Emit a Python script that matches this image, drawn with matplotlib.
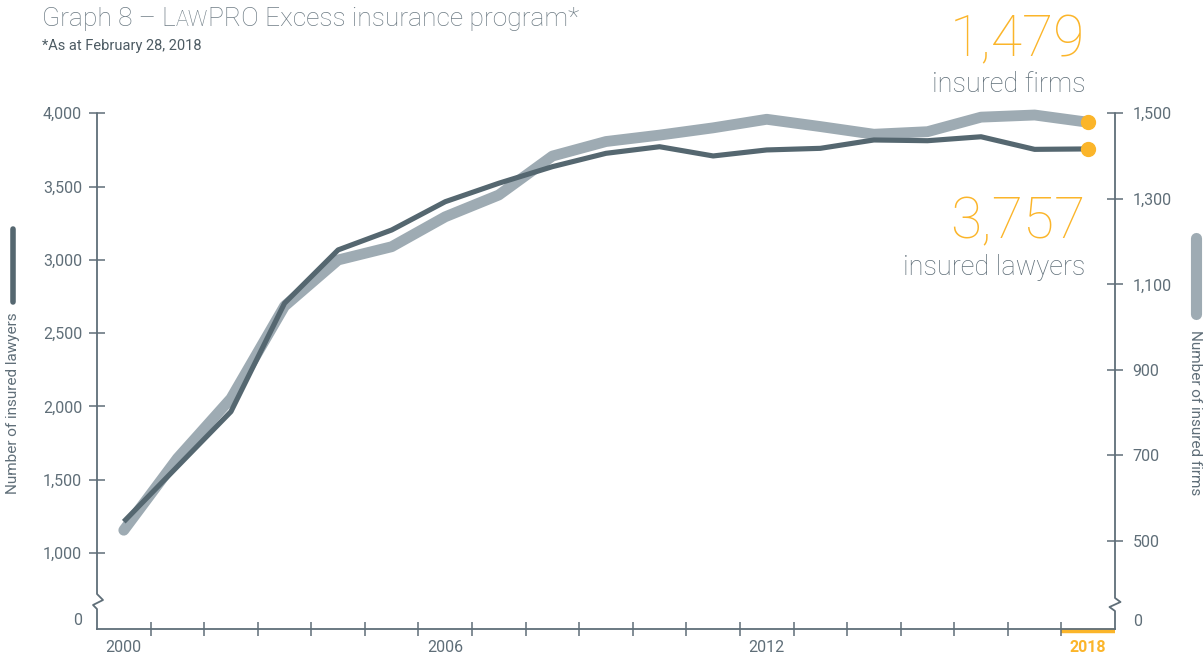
import numpy as np
import matplotlib.pyplot as plt
from matplotlib.lines import Line2D

plt.rcParams['font.family'] = ['Roboto', 'DejaVu Sans']

# data
years = list(range(2000, 2019))
lawyers = [1214, 1590, 1965, 2704, 3068, 3204, 3397, 3523, 3636, 3727,
           3772, 3709, 3750, 3761, 3818, 3813, 3840, 3754, 3757]
firms = [525, 693, 833, 1049, 1157, 1188, 1258, 1309, 1400, 1434,
         1449, 1466, 1486, 1469, 1451, 1457, 1491, 1496, 1479]
lawyerTicks = [1000, 1500, 2000, 2500, 3000, 3500, 4000]
firmTicks = [500, 700, 900, 1100, 1300, 1500]
yearLabels = [2000, 2006, 2012, 2018]

dark = '#556770'
light = '#9eabb3'
grey = '#5f6e78'
orange = '#fbb52a'

W, H = 1204, 654
fig = plt.figure(figsize=(W/100, H/100), dpi=100)
axW, axH = 1018, 515.7
ax = fig.add_axes([97/W, 1-629/H, axW/W, axH/H])
ax2 = ax.twinx()
ax.set_zorder(ax2.get_zorder()+1)
ax.patch.set_visible(False)

ax.set_xlim(1999.5, 2018.5)
ax.set_ylim(482, 4000)
ax2.set_ylim(294, 1500)

# lines
ax2.plot(years, firms, color=light, lw=7.8, solid_capstyle='round', clip_on=False)
ax.plot(years, lawyers, color=dark, lw=3.7, solid_capstyle='butt', clip_on=False)
ax2.plot(years[-1], firms[-1], 'o', color=orange, ms=10, clip_on=False, zorder=5)
ax.plot(years[-1], lawyers[-1], 'o', color=orange, ms=10, clip_on=False, zorder=5)

# spines: bottom normal, sides drawn with break marks
for a in (ax, ax2):
    for s in a.spines.values():
        s.set_visible(False)
ax.spines['bottom'].set_visible(True)
ax.spines['bottom'].set_color(grey)
ax.spines['bottom'].set_linewidth(1.3)

def brokenSpine(x0, pts):
    xs = [x0 + dx/axW for dx, dy in pts]
    ys = [dy/axH for dx, dy in pts]
    ax.add_line(Line2D(xs, ys, transform=ax.transAxes, color=grey, lw=1.3, clip_on=False))

brokenSpine(0, [(0, axH), (0, 35), (6, 29), (-4, 24), (0, 20), (0, 0)])
brokenSpine(1, [(0, axH), (0, 31), (5.5, 27), (-5.5, 22), (0, 18), (0, 0)])

# y ticks
ax.set_yticks(lawyerTicks)
ax.set_yticklabels(['{:,}'.format(v) for v in lawyerTicks])
ax.tick_params(axis='y', direction='inout', length=11.5, width=1.1, color=grey,
               labelcolor=grey, labelsize=11.5, pad=5)
ax2.set_yticks(firmTicks)
ax2.set_yticklabels(['{:,}'.format(v) for v in firmTicks])
ax2.tick_params(axis='y', direction='inout', length=11.5, width=1.1, color=grey,
                labelcolor=grey, labelsize=11.5, pad=7)
ax.annotate('0', xy=(0, 537), xycoords=ax.get_yaxis_transform(), xytext=(-15, 0),
            textcoords='offset pixels', ha='right', va='center', fontsize=11.5, color=grey)
ax2.annotate('0', xy=(1, 312), xycoords=ax2.get_yaxis_transform(), xytext=(18, 0),
             textcoords='offset pixels', ha='left', va='center', fontsize=11.5, color=grey)

# x ticks: marks between years, labels on selected years
ax.set_xticks(np.arange(2000.5, 2018, 1))
ax.set_xticklabels([])
ax.tick_params(axis='x', which='major', direction='inout', length=10, width=1.1, color=grey)
ax.set_xticks(yearLabels, minor=True)
ax.set_xticklabels([str(y) for y in yearLabels], minor=True)
ax.tick_params(axis='x', which='minor', length=0, pad=8, labelsize=11.5, labelcolor=grey)
lastLab = ax.get_xticklabels(minor=True)[-1]
lastLab.set_color(orange)
lastLab.set_fontweight('bold')
ax.plot([2017.5, 2018.5], [-2/axH, -2/axH], transform=ax.get_xaxis_transform(),
        color=orange, lw=3.2, solid_capstyle='butt', clip_on=False, zorder=1)

# title with small caps in LAWPRO
renderer = fig.canvas.get_renderer()
x = 42
titleColor = '#6e7c85'
for txt, size in [('Graph 8 \u2013 L', 19), ('AW', 15.5), ('PRO Excess insurance program*', 19)]:
    t = fig.text(x/W, 1-26/H, txt, fontsize=size, color=titleColor, fontweight='light', va='baseline')
    x = t.get_window_extent(renderer).x1
fig.text(42/W, 1-50/H, '*As at February 28, 2018', fontsize=10.5, color='#4d5b63', va='baseline')

# callouts
fig.text(1085/W, 1-56/H, '1,479', fontsize=41, color=orange, fontweight='light', ha='right', va='baseline')
fig.text(1085/W, 1-92/H, 'insured firms', fontsize=19.5, color=grey, fontweight='light', ha='right', va='baseline')
fig.text(1085/W, 1-238/H, '3,757', fontsize=41, color=orange, fontweight='light', ha='right', va='baseline')
fig.text(1085/W, 1-275/H, 'insured lawyers', fontsize=19.5, color=grey, fontweight='light', ha='right', va='baseline')

# axis titles with line swatches
fig.text(13/W, 1-312/H, 'Number of insured lawyers', rotation=90, ha='center', va='top', fontsize=11, color=grey)
fig.lines.append(Line2D([13/W, 13/W], [1-229/H, 1-302/H], transform=fig.transFigure,
                        color=dark, lw=4, solid_capstyle='round'))
fig.text(1195/W, 1-330/H, 'Number of insured firms', rotation=270, ha='center', va='top', fontsize=11, color=grey)
fig.lines.append(Line2D([1196/W, 1196/W], [1-238/H, 1-314/H], transform=fig.transFigure,
                        color=light, lw=8, solid_capstyle='round'))

fig.savefig('out.png', dpi=100)
